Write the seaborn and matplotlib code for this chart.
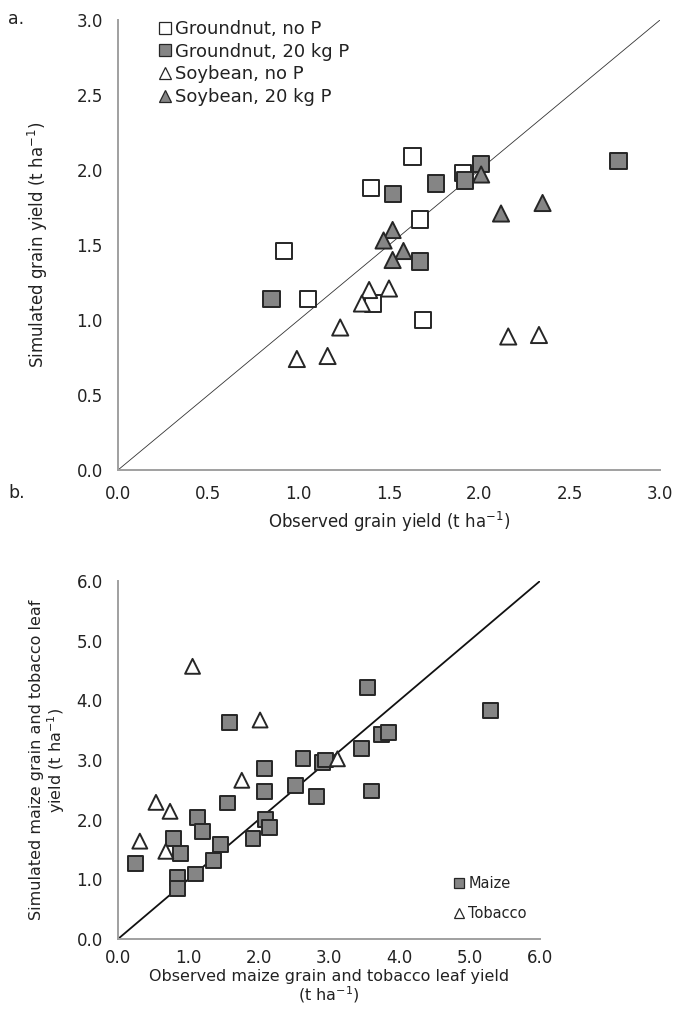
import numpy as np
import pandas as pd
import matplotlib
matplotlib.use("Agg")
import matplotlib.pyplot as plt
from matplotlib.lines import Line2D
import seaborn as sns

sns.set_theme(style="white")
plt.rcParams['font.family'] = ['DejaVu Sans']

# ---- Panel a data ----
gn_noP_obs = [1.63, 1.40, 1.91, 0.92, 1.05, 1.41, 1.67, 1.69]
gn_noP_sim = [2.09, 1.88, 1.98, 1.46, 1.14, 1.11, 1.67, 1.00]
gn_20P_obs = [1.52, 1.67, 0.85, 1.76, 1.92, 2.01, 2.77]
gn_20P_sim = [1.84, 1.39, 1.14, 1.91, 1.93, 2.04, 2.06]
sb_noP_obs = [1.39, 1.50, 1.35, 1.23, 0.99, 1.16, 2.16, 2.33]
sb_noP_sim = [1.20, 1.21, 1.11, 0.95, 0.74, 0.76, 0.89, 0.90]
sb_20P_obs = [1.52, 1.47, 1.58, 1.52, 2.01, 2.12, 2.35]
sb_20P_sim = [1.60, 1.53, 1.46, 1.40, 1.97, 1.71, 1.78]
labels_a = ["Groundnut, no P", "Groundnut, 20 kg P", "Soybean, no P", "Soybean, 20 kg P"]

# ---- Panel b data ----
maize_obs = [0.25, 0.79, 0.89, 0.85, 0.85, 1.13, 1.20, 1.10, 1.36, 1.46, 1.56, 1.58,
             1.92, 2.08, 2.08, 2.10, 2.15, 2.53, 2.63, 2.82, 2.91, 2.95, 3.46, 3.55,
             3.60, 3.75, 3.85, 5.29]
maize_sim = [1.26, 1.68, 1.43, 1.03, 0.85, 2.03, 1.80, 1.09, 1.32, 1.58, 2.28, 3.63,
             1.68, 2.86, 2.47, 2.01, 1.87, 2.57, 3.03, 2.39, 2.96, 3.00, 3.20, 4.21,
             2.48, 3.43, 3.46, 3.83]
tob_obs = [0.31, 0.54, 0.74, 0.68, 1.06, 1.76, 2.02, 3.12]
tob_sim = [1.64, 2.29, 2.14, 1.47, 4.57, 2.66, 3.67, 3.02]
labels_b = ["Maize", "Tobacco"]

ticks_a = [0.0, 0.5, 1.0, 1.5, 2.0, 2.5, 3.0]
ticks_b = [0.0, 1.0, 2.0, 3.0, 4.0, 5.0, 6.0]

GREY = "#858585"
EDGE = "#262626"
SPINE = "#a0a0a0"
TXT = "#222222"

df_a = pd.concat([
    pd.DataFrame({"obs": gn_noP_obs, "sim": gn_noP_sim, "series": labels_a[0]}),
    pd.DataFrame({"obs": gn_20P_obs, "sim": gn_20P_sim, "series": labels_a[1]}),
    pd.DataFrame({"obs": sb_noP_obs, "sim": sb_noP_sim, "series": labels_a[2]}),
    pd.DataFrame({"obs": sb_20P_obs, "sim": sb_20P_sim, "series": labels_a[3]}),
], ignore_index=True)
df_b = pd.concat([
    pd.DataFrame({"obs": maize_obs, "sim": maize_sim, "series": labels_b[0]}),
    pd.DataFrame({"obs": tob_obs, "sim": tob_sim, "series": labels_b[1]}),
], ignore_index=True)

pal_a = {labels_a[0]: "white", labels_a[1]: GREY, labels_a[2]: "white", labels_a[3]: GREY}
mk_a = {labels_a[0]: "s", labels_a[1]: "s", labels_a[2]: "^", labels_a[3]: "^"}
pal_b = {labels_b[0]: GREY, labels_b[1]: "white"}
mk_b = {labels_b[0]: "s", labels_b[1]: "^"}

fig = plt.figure(figsize=(6.8, 10.09), dpi=100)
# axes placed in pixel terms: a: x 118-660, y 20-470 ; b: x 118-540, y 581-939
ax1 = fig.add_axes([118 / 680, 1 - 470 / 1009, 542 / 680, 450 / 1009])
ax2 = fig.add_axes([118 / 680, 1 - 939 / 1009, 422 / 680, 358 / 1009])


def style_axes(ax, ticks, lim, xpad):
    ax.set_xlim(0, lim)
    ax.set_ylim(0, lim)
    ax.set_xticks(ticks)
    ax.set_yticks(ticks)
    ax.set_xticklabels([f"{t:.1f}" for t in ticks])
    ax.set_yticklabels([f"{t:.1f}" for t in ticks])
    for s in ["top", "right"]:
        ax.spines[s].set_visible(False)
    for s in ["left", "bottom"]:
        ax.spines[s].set_color(SPINE)
        ax.spines[s].set_linewidth(1.4)
    ax.tick_params(axis="both", direction="out", length=4, width=1.2, color=SPINE,
                   labelsize=12, labelcolor=TXT, pad=7)
    ax.tick_params(axis="x", pad=xpad)
    ax.grid(False)


# Panel a
ax1.plot([0, 3], [0, 3], color="#333333", lw=0.6, zorder=1)
sns.scatterplot(data=df_a, x="obs", y="sim", hue="series", style="series",
                palette=pal_a, markers=mk_a, s=135, edgecolor=EDGE, linewidth=1.4,
                legend=False, ax=ax1, zorder=3)
style_axes(ax1, ticks_a, 3.0, 7)
ax1.set_xlabel("Observed grain yield (t ha$^{-1}$)", fontsize=12, color=TXT, labelpad=5)
ax1.set_ylabel("Simulated grain yield (t ha$^{-1}$)", fontsize=12, color=TXT)
ax1.yaxis.set_label_coords(-0.125, 0.5)
h_a = [Line2D([], [], ls="none", marker=mk_a[l], markersize=8, markerfacecolor=pal_a[l],
              markeredgecolor=EDGE, markeredgewidth=0.9) for l in labels_a]
ax1.legend(h_a, labels_a, loc="upper left", bbox_to_anchor=(0.064, 1.016), frameon=False,
           fontsize=13, handlelength=0.6, handletextpad=0.25, labelspacing=0.26,
           borderaxespad=0, labelcolor=TXT)

# Panel b
ax2.plot([0, 6], [0, 6], color="#111111", lw=1.3, zorder=1)
sns.scatterplot(data=df_b, x="obs", y="sim", hue="series", style="series",
                palette=pal_b, markers=mk_b, s=115, edgecolor=EDGE, linewidth=1.4,
                legend=False, ax=ax2, zorder=3)
style_axes(ax2, ticks_b, 6.0, 3.5)
ax2.set_xlabel("Observed maize grain and tobacco leaf yield\n(t ha$^{-1}$)", fontsize=11.5,
               color=TXT, labelpad=1, linespacing=1.0)
ax2.set_ylabel("Simulated maize grain and tobacco leaf\nyield (t ha$^{-1}$)", fontsize=11.5,
               color=TXT, linespacing=1.05)
ax2.yaxis.set_label_coords(-0.122, 0.5)
h_b = [Line2D([], [], ls="none", marker=mk_b[l], markersize=7, markerfacecolor=pal_b[l],
              markeredgecolor=EDGE, markeredgewidth=0.9) for l in labels_b]
ax2.legend(h_b, labels_b, loc="lower left", bbox_to_anchor=(0.785, 0.034), frameon=False,
           fontsize=10.5, handlelength=0.6, handletextpad=0.3, labelspacing=1.05,
           borderaxespad=0, labelcolor=TXT)

fig.text(0.012, 0.99, "a.", fontsize=12.5, color=TXT, va="top")
fig.text(0.012, 0.52, "b.", fontsize=12.5, color=TXT, va="top")

fig.savefig("out.png", dpi=100)
